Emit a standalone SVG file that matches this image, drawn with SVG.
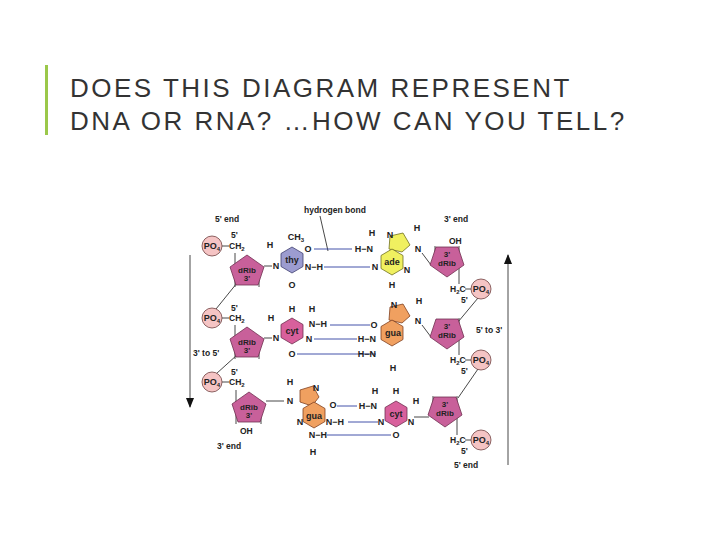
<svg xmlns="http://www.w3.org/2000/svg" width="720" height="540" viewBox="0 0 720 540">
<style>
.t{font-family:"Liberation Sans",Arial,sans-serif;font-size:26px;fill:#333;letter-spacing:2.5px}
.s{font-family:"Liberation Sans",Arial,sans-serif;font-size:8.5px;fill:#222;font-weight:bold}
.b{font-family:"Liberation Sans",Arial,sans-serif;font-size:9px;fill:#222;font-weight:bold;text-anchor:middle}
.r{font-family:"Liberation Sans",Arial,sans-serif;font-size:8px;fill:#222;font-weight:bold;text-anchor:middle}
.po{fill:#f5c4c4;stroke:#704040;stroke-width:0.8}
.rib{fill:#c8609a;stroke:#703050;stroke-width:0.8}
.hb{stroke:#3040a0;stroke-width:0.9;fill:none}
.ln{stroke:#333;stroke-width:0.9;fill:none}
</style>
<defs>
<marker id="ah" markerWidth="10" markerHeight="8" refX="9" refY="4" orient="auto" markerUnits="userSpaceOnUse"><path d="M0,0 L10,4 L0,8 Z" fill="#111"/></marker>
<polygon id="pent" points="0,-15 17,-3 11,15 -11,15 -17,-3"/>
<polygon id="hex" points="0,-13 11,-6.5 11,6.5 0,13 -11,6.5 -11,-6.5"/>
</defs>
<rect x="45" y="65" width="3" height="70" fill="#9bc84a"/>
<text class="t" x="70" y="97">DOES THIS DIAGRAM REPRESENT</text>
<text class="t" x="70" y="130">DNA OR RNA? …HOW CAN YOU TELL?</text>

<g id="connectors">
<line class="ln" x1="190" y1="255" x2="190" y2="407" marker-end="url(#ah)" stroke-width="2"/>
<line class="ln" x1="508" y1="465" x2="508" y2="255" marker-end="url(#ah)" stroke-width="2"/>
<line class="ln" x1="320" y1="216" x2="328" y2="251"/>
<line class="ln" x1="237" y1="283" x2="216" y2="309"/>
<line class="ln" x1="237" y1="355" x2="216" y2="374"/>
<line class="ln" x1="458" y1="322" x2="478" y2="298"/>
<line class="ln" x1="458" y1="398" x2="478" y2="369"/>
<line class="ln" x1="222" y1="246" x2="229" y2="246"/>
<line class="ln" x1="222" y1="318" x2="229" y2="318"/>
<line class="ln" x1="222" y1="382" x2="229" y2="382"/>
<line class="ln" x1="235" y1="253" x2="235" y2="287"/><line class="ln" x1="259" y1="272" x2="259" y2="287"/>
<line class="ln" x1="235" y1="325" x2="235" y2="359"/><line class="ln" x1="259" y1="344" x2="259" y2="359"/>
<line class="ln" x1="236" y1="390" x2="236" y2="424"/><line class="ln" x1="261" y1="409" x2="261" y2="424"/>
<line class="ln" x1="459" y1="246" x2="459" y2="284"/><line class="ln" x1="435" y1="246" x2="435" y2="260"/>
<line class="ln" x1="459" y1="318" x2="459" y2="355"/>
<line class="ln" x1="457" y1="396" x2="457" y2="435"/><line class="ln" x1="433" y1="396" x2="433" y2="410"/>
<line class="ln" x1="465" y1="289" x2="471" y2="289"/>
<line class="ln" x1="465" y1="360" x2="471" y2="360"/>
<line class="ln" x1="465" y1="440" x2="471" y2="440"/>
<line class="ln" x1="264" y1="266" x2="272" y2="266"/>
<line class="ln" x1="264" y1="338" x2="272" y2="338"/>
<line class="ln" x1="266" y1="401" x2="284" y2="401"/>
<line class="ln" x1="422" y1="253" x2="431" y2="265"/>
<line class="ln" x1="422" y1="325" x2="431" y2="337"/>
<line class="ln" x1="414" y1="417" x2="429" y2="417"/>
<line class="hb" x1="314" y1="249" x2="352" y2="249"/>
<line class="hb" x1="324" y1="267" x2="370" y2="267"/>
<line class="hb" x1="330" y1="325" x2="370" y2="325"/>
<line class="hb" x1="314" y1="339" x2="357" y2="339"/>
<line class="hb" x1="297" y1="354" x2="376" y2="354"/>
<line class="hb" x1="337" y1="406" x2="357" y2="406"/>
<line class="hb" x1="348" y1="422" x2="378" y2="422"/>
<line class="hb" x1="327" y1="435" x2="391" y2="435"/>
</g>

<g id="labels">
<text class="s" x="215" y="222">5' end</text>
<text class="s" x="304" y="213">hydrogen bond</text>
<text class="s" x="444" y="222">3' end</text>
<text class="s" x="476" y="333">5' to 3'</text>
<text class="s" x="193" y="356">3' to 5'</text>
<text class="s" x="217" y="449">3' end</text>
<text class="s" x="454" y="468">5' end</text>
<text class="s" x="449" y="244">OH</text>
<text class="s" x="240" y="434">OH</text>
</g>

<g id="left-strand">
<circle class="po" cx="212" cy="246" r="10"/><text class="b" x="212" y="249">PO<tspan font-size="6" dy="2">4</tspan></text>
<circle class="po" cx="212" cy="318" r="10"/><text class="b" x="212" y="321">PO<tspan font-size="6" dy="2">4</tspan></text>
<circle class="po" cx="212" cy="382" r="10"/><text class="b" x="212" y="385">PO<tspan font-size="6" dy="2">4</tspan></text>
<text class="s" x="229" y="249">CH<tspan font-size="6" dy="2">2</tspan></text><text class="s" x="231" y="238" font-size="6">5'</text>
<text class="s" x="229" y="321">CH<tspan font-size="6" dy="2">2</tspan></text><text class="s" x="231" y="311" font-size="6">5'</text>
<text class="s" x="229" y="385">CH<tspan font-size="6" dy="2">2</tspan></text><text class="s" x="231" y="375" font-size="6">5'</text>
<use href="#pent" class="rib" x="247" y="270"/><text class="r" x="247" y="273">dRib</text><text class="r" x="247" y="281" font-size="6">3'</text>
<use href="#pent" class="rib" x="247" y="342"/><text class="r" x="247" y="345">dRib</text><text class="r" x="247" y="353" font-size="6">3'</text>
<use href="#pent" class="rib" x="249" y="407"/><text class="r" x="249" y="410">dRib</text><text class="r" x="249" y="418" font-size="6">3'</text>
</g>

<g id="right-strand">
<use href="#pent" class="rib" x="447" y="262" transform="rotate(180 447 262)"/><text class="r" x="447" y="266">dRib</text><text class="r" x="447" y="257" font-size="6">3'</text>
<use href="#pent" class="rib" x="447" y="334" transform="rotate(180 447 334)"/><text class="r" x="447" y="338">dRib</text><text class="r" x="447" y="329" font-size="6">3'</text>
<use href="#pent" class="rib" x="445" y="412" transform="rotate(180 445 412)"/><text class="r" x="445" y="416">dRib</text><text class="r" x="445" y="407" font-size="6">3'</text>
<text class="s" x="450" y="292">H<tspan font-size="6" dy="2">2</tspan><tspan dy="-2">C</tspan></text><text class="s" x="461" y="303" font-size="6">5'</text>
<text class="s" x="450" y="363">H<tspan font-size="6" dy="2">2</tspan><tspan dy="-2">C</tspan></text><text class="s" x="461" y="374" font-size="6">5'</text>
<text class="s" x="450" y="443">H<tspan font-size="6" dy="2">2</tspan><tspan dy="-2">C</tspan></text><text class="s" x="461" y="454" font-size="6">5'</text>
<circle class="po" cx="481" cy="289" r="10"/><text class="b" x="481" y="292">PO<tspan font-size="6" dy="2">4</tspan></text>
<circle class="po" cx="481" cy="360" r="10"/><text class="b" x="481" y="363">PO<tspan font-size="6" dy="2">4</tspan></text>
<circle class="po" cx="481" cy="440" r="10"/><text class="b" x="481" y="443">PO<tspan font-size="6" dy="2">4</tspan></text>
</g>

<g id="thy">
<use href="#hex" x="292" y="260" fill="#9c9cd0" stroke="#404070" stroke-width="0.8"/>
<text class="b" x="292" y="263">thy</text>
<text class="b" x="296" y="240">CH<tspan font-size="6" dy="2">3</tspan></text>
<text class="b" x="270" y="248">H</text><text class="b" x="276" y="269">N</text>
<text class="b" x="308" y="252">O</text><text class="b" x="314" y="270">N−H</text>
<text class="b" x="292" y="288">O</text>
</g>
<g id="cyt1">
<use href="#hex" x="292" y="331" fill="#d8609c" stroke="#703050" stroke-width="0.8"/>
<text class="b" x="292" y="334">cyt</text>
<text class="b" x="292" y="312">H</text><text class="b" x="312" y="312">H</text>
<text class="b" x="271" y="321">H</text><text class="b" x="276" y="341">N</text>
<text class="b" x="318" y="327">N−H</text><text class="b" x="309" y="342">N</text>
<text class="b" x="292" y="357">O</text>
</g>
<g id="gua2">
<polygon points="300,390 313,386 319,397 312,406 300,402" fill="#f0a060" stroke="#804020" stroke-width="0.8"/>
<use href="#hex" x="314" y="415" fill="#f0a060" stroke="#804020" stroke-width="0.8"/>
<text class="b" x="314" y="419">gua</text>
<text class="b" x="290" y="385">H</text><text class="b" x="316" y="391">N</text>
<text class="b" x="290" y="404">N</text><text class="b" x="300" y="425">N</text>
<text class="b" x="333" y="408">O</text><text class="b" x="335" y="425">N−H</text>
<text class="b" x="318" y="438">N−H</text><text class="b" x="313" y="455">H</text>
</g>
<g id="ade">
<polygon points="390,236 403,233 410,245 402,252 389,249" fill="#f0f060" stroke="#707020" stroke-width="0.8"/>
<use href="#hex" x="392" y="262" fill="#f0f060" stroke="#707020" stroke-width="0.8"/>
<text class="b" x="392" y="265">ade</text>
<text class="b" x="390" y="238">N</text><text class="b" x="417" y="231">H</text>
<text class="b" x="372" y="236">H</text><text class="b" x="364" y="252">H−N</text>
<text class="b" x="375" y="270">N</text><text class="b" x="418" y="252">N</text>
<text class="b" x="407" y="273">N</text><text class="b" x="392" y="288">H</text>
</g>
<g id="gua1">
<polygon points="390,307 403,304 410,316 402,323 389,320" fill="#f0a060" stroke="#804020" stroke-width="0.8"/>
<use href="#hex" x="392" y="333" fill="#f0a060" stroke="#804020" stroke-width="0.8"/>
<text class="b" x="393" y="336">gua</text>
<text class="b" x="394" y="308">N</text><text class="b" x="419" y="304">H</text>
<text class="b" x="418" y="324">N</text>
<text class="b" x="374" y="328">O</text><text class="b" x="367" y="342">H−N</text>
<text class="b" x="367" y="357">H−N</text><text class="b" x="393" y="371">H</text>
</g>
<g id="cyt2">
<use href="#hex" x="396" y="414" fill="#d8609c" stroke="#703050" stroke-width="0.8"/>
<text class="b" x="396" y="417">cyt</text>
<text class="b" x="375" y="394">H</text><text class="b" x="396" y="394">H</text><text class="b" x="416" y="404">H</text>
<text class="b" x="368" y="409">H−N</text><text class="b" x="381" y="425">N</text>
<text class="b" x="411" y="425">N</text><text class="b" x="396" y="438">O</text>
</g>
</svg>
